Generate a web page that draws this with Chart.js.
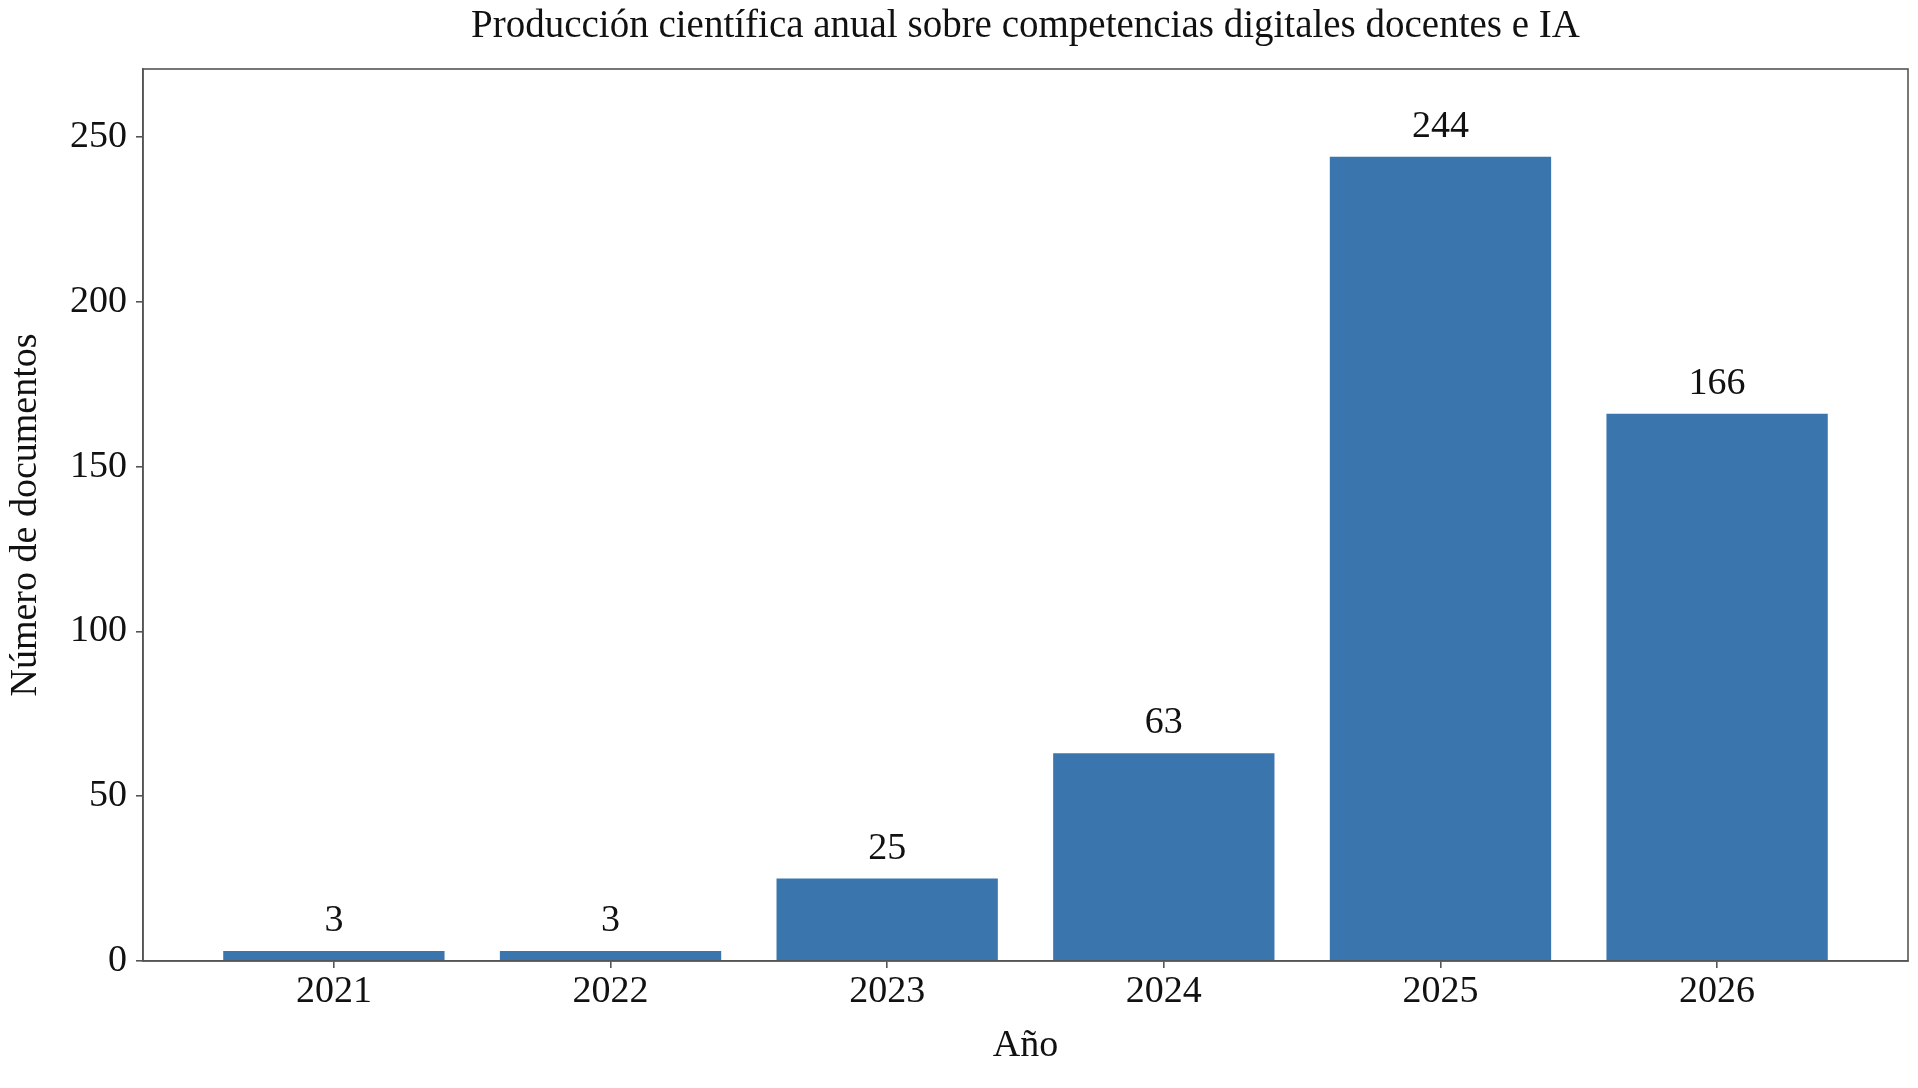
<!DOCTYPE html>
<html>
<head>
<meta charset="utf-8">
<script src="https://cdn.jsdelivr.net/npm/chart.js@4/dist/chart.umd.min.js"></script>
<style>
  html, body { margin: 0; padding: 0; background: #fff; }
  #wrap { width: 1918px; height: 1088px; }
</style>
</head>
<body>
<div id="wrap"><canvas id="prodChart" width="1918" height="1088"></canvas></div>
<script>
const years = ['2021', '2022', '2023', '2024', '2025', '2026'];
const docCounts = [3, 3, 25, 63, 244, 166];
const yTickValues = [0, 50, 100, 150, 200, 250];
const chartTitle = 'Producción científica anual sobre competencias digitales docentes e IA';

const FONT = '"Liberation Serif", "DejaVu Serif", serif';
const barColor = '#3a75ae';
const axisColor = '#555555';

// frame around the plot area + title centred over it (like matplotlib)
const frame = {
  id: 'frame',
  afterDraw(chart) {
    const a = chart.chartArea;
    const c = chart.ctx;
    c.save();
    c.strokeStyle = axisColor;
    c.lineWidth = 1.6;
    c.strokeRect(a.left, a.top, a.right - a.left, a.bottom - a.top);
    c.font = '39px ' + FONT;
    c.fillStyle = '#111';
    c.textAlign = 'center';
    c.textBaseline = 'middle';
    c.fillText(chartTitle, (a.left + a.right) / 2, 27);
    c.restore();
  }
};

// value labels above each bar
const barLabels = {
  id: 'barLabels',
  afterDatasetsDraw(chart) {
    const c = chart.ctx;
    const meta = chart.getDatasetMeta(0);
    c.save();
    c.font = '38px ' + FONT;
    c.fillStyle = '#111';
    c.textAlign = 'center';
    c.textBaseline = 'bottom';
    meta.data.forEach((bar, i) => {
      c.fillText(String(docCounts[i]), bar.x, bar.y - 11);
    });
    c.restore();
  }
};

const ctx = document.getElementById('prodChart').getContext('2d');
const chart = new Chart(ctx, {
  type: 'bar',
  data: {
    datasets: [{
      data: docCounts.map((v, i) => ({ x: i, y: v })),
      backgroundColor: barColor,
      borderWidth: 0,
      barPercentage: 0.8,
      categoryPercentage: 1.0
    }]
  },
  options: {
    responsive: false,
    animation: false,
    devicePixelRatio: 1,
    layout: { padding: { left: 0, right: 10, top: 69, bottom: 0 } },
    plugins: {
      legend: { display: false },
      tooltip: { enabled: false },
      title: { display: false }
    },
    scales: {
      x: {
        type: 'linear',
        min: -0.69,
        max: 5.69,
        offset: false,
        afterBuildTicks(scale) {
          scale.ticks = years.map((y, i) => ({ value: i }));
        },
        afterFit(scale) { scale.height = 127; },
        ticks: {
          color: '#111',
          font: { family: FONT, size: 38 },
          padding: 1,
          autoSkip: false,
          maxRotation: 0,
          callback: (v) => years[v]
        },
        grid: { offset: false, drawOnChartArea: false, drawTicks: true, tickLength: 7, color: axisColor, lineWidth: 1.6 },
        border: { display: true, color: axisColor, width: 1.6 },
        title: {
          display: true,
          text: 'Año',
          color: '#111',
          font: { family: FONT, size: 38 },
          padding: { top: 0, bottom: 19 }
        }
      },
      y: {
        min: 0,
        max: 270.6,
        afterBuildTicks(scale) {
          scale.ticks = yTickValues.map(v => ({ value: v }));
        },
        afterFit(scale) { scale.width = 143; },
        ticks: {
          color: '#111',
          font: { family: FONT, size: 38 },
          padding: 9
        },
        grid: { drawOnChartArea: false, drawTicks: true, tickLength: 7, color: axisColor, lineWidth: 1.6 },
        border: { display: true, color: axisColor, width: 1.6 },
        title: {
          display: true,
          text: 'Número de documentos',
          color: '#111',
          font: { family: FONT, size: 38 },
          padding: { top: 3, bottom: 0 }
        }
      }
    }
  },
  plugins: [frame, barLabels]
});
</script>
</body>
</html>
